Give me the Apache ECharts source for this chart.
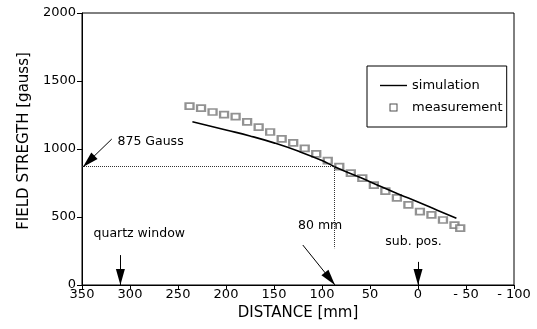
<!DOCTYPE html>
<html>
<head>
<meta charset="utf-8">
<script src="https://cdn.jsdelivr.net/npm/echarts@6/dist/echarts.min.js"></script>
<style>
  html, body { margin: 0; padding: 0; background: #fff; }
  #chart { width: 537px; height: 329px; }
</style>
</head>
<body>
<div id="chart"></div>
<script>
// simulation curve (distance mm -> field gauss)
var simDist  = [235, 200, 175, 150, 125, 100, 87, 60, 40, 20, 0, -20, -40];
var simField = [1200, 1140, 1096, 1045, 985, 915, 870, 790, 728, 668, 610, 550, 490];

// measured points
var measDist  = [238, 226, 214, 202, 190, 178, 166, 154, 142, 130, 118, 106, 94, 82, 70, 58, 46, 34, 22, 10, -2, -14, -26, -38, -44];
var measField = [1315, 1300, 1272, 1252, 1238, 1200, 1160, 1125, 1075, 1045, 1005, 965, 915, 870, 822, 785, 735, 690, 640, 590, 540, 515, 478, 440, 418];

var font = 'DejaVu Sans';

var myChart = echarts.init(document.getElementById('chart'));

var option = {
    animation: false,
    backgroundColor: '#fff',
    grid: { left: 82, right: 23, top: 13, bottom: 44, show: true, borderColor: '#000', borderWidth: 1 },
    legend: {
        orient: 'vertical',
        left: 367, top: 66,
        padding: [13, 4, 13, 13],
        itemWidth: 27, itemHeight: 8, itemGap: 9,
        borderColor: '#000', borderWidth: 1,
        textStyle: { fontFamily: font, fontSize: 13, color: '#000' },
        data: [
            { name: 'simulation', icon: 'path://M0,0 L27,0 L27,1.4 L0,1.4 Z', itemStyle: { color: '#000' } },
            { name: 'measurement', icon: 'path://M0,0 L8,0 L8,8 L0,8 Z M1,1 L1,7 L7,7 L7,1 Z', itemStyle: { color: '#222', borderWidth: 0 } }
        ]
    },
    xAxis: {
        type: 'value',
        inverse: true,
        min: -100, max: 350, interval: 50,
        name: 'DISTANCE [mm]',
        nameLocation: 'middle',
        nameGap: 17,
        nameTextStyle: { fontFamily: font, fontSize: 15, color: '#000', verticalAlign: 'top' },
        axisLine: { onZero: false, lineStyle: { color: '#000', width: 1 } },
        axisTick: { length: 4, lineStyle: { color: '#000' } },
        axisLabel: {
            margin: 3, fontFamily: font, fontSize: 13, color: '#000',
            formatter: function (v) { return v < 0 ? '- ' + (-v) : '' + v; }
        },
        splitLine: { show: false }
    },
    yAxis: {
        type: 'value',
        min: 0, max: 2000, interval: 500,
        name: 'FIELD STREGTH [gauss]',
        nameLocation: 'middle',
        nameGap: 46,
        nameTextStyle: { fontFamily: font, fontSize: 15, color: '#000', padding: [0, 0, 0, 16] },
        axisLine: { show: true, onZero: false, lineStyle: { color: '#000', width: 1 } },
        axisTick: { show: true, length: 5, lineStyle: { color: '#000' } },
        axisLabel: {
            margin: 6, fontFamily: font, fontSize: 13, color: '#000',
            formatter: function (v) { return '' + v; }
        },
        splitLine: { show: false }
    },
    series: [
        {
            name: 'simulation',
            type: 'line',
            smooth: true,
            symbol: 'none',
            data: simDist.map(function (d, i) { return [d, simField[i]]; }),
            lineStyle: { color: '#000', width: 1.6 },
            itemStyle: { color: '#000' },
            z: 3
        },
        {
            name: 'measurement',
            type: 'scatter',
            symbol: 'emptyRect',
            symbolSize: [8, 6],
            data: measDist.map(function (d, i) { return [d, measField[i]]; }),
            itemStyle: { color: '#777', borderWidth: 0.8 },
            z: 2
        },
        {
            // dotted guide lines for 875 gauss
            name: 'guides',
            type: 'line',
            data: [],
            markLine: {
                silent: true,
                symbol: 'none',
                label: { show: false },
                lineStyle: { type: 'dotted', color: '#333', width: 1 },
                data: [
                    [{ coord: [350, 875] }, { coord: [87, 875] }],
                    [{ coord: [87, 875] }, { coord: [87, 270] }]
                ]
            }
        },
        {
            // annotation arrows and texts
            name: 'notes',
            type: 'line',
            data: [],
            markLine: {
                silent: true,
                symbol: ['none', 'triangle'],
                symbolSize: [9, 16],
                symbolOffset: [0, [0, 8]],
                label: { show: false },
                lineStyle: { type: 'solid', color: '#000', width: 1 },
                itemStyle: { color: '#000' },
                data: [
                    [{ coord: [319, 1073] }, { coord: [349, 868] }],
                    [{ coord: [310, 220] }, { coord: [310, 0] }],
                    [{ coord: [120, 294] }, { coord: [86.5, 0] }],
                    [{ coord: [0, 170] }, { coord: [0, 0] }]
                ]
            },
            markPoint: {
                silent: true,
                symbolSize: 0,
                label: {
                    show: true,
                    position: [0, 0],
                    align: 'left',
                    verticalAlign: 'middle',
                    fontFamily: font,
                    fontSize: 12.5,
                    color: '#000',
                    formatter: function (p) { return p.name; }
                },
                data: [
                    { name: '875 Gauss', coord: [313, 1055] },
                    { name: 'quartz window', coord: [338, 375] },
                    { name: '80 mm', coord: [125, 434] },
                    { name: 'sub. pos.', coord: [34, 318] }
                ]
            }
        }
    ]
};

myChart.setOption(option);
</script>
</body>
</html>
